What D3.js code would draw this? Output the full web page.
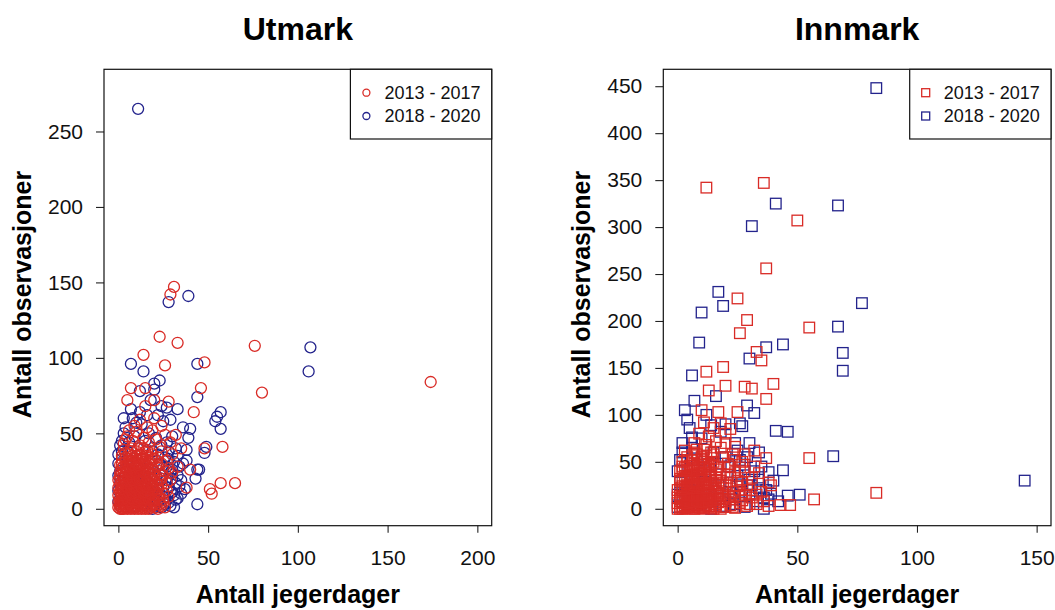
<!DOCTYPE html>
<html>
<head>
<meta charset="utf-8">
<script src="https://cdn.jsdelivr.net/npm/d3@7"></script>
<style>
  html, body { margin: 0; padding: 0; background: #fff; }
  svg { display: block; font-family: "Liberation Sans", Arial, Helvetica, sans-serif; }
</style>
</head>
<body>
<svg id="chart" width="1055" height="610"></svg>
<script>
// Hunter-days vs. observations, two periods, two land types
const periods = ["2013 - 2017", "2018 - 2020"];
const panelTitles = ["Utmark", "Innmark"];
const xTitle = "Antall jegerdager";
const yTitle = "Antall observasjoner";

const utmarkXTicks = [0, 50, 100, 150, 200];
const utmarkYTicks = [0, 50, 100, 150, 200, 250];
const innmarkXTicks = [0, 50, 100, 150];
const innmarkYTicks = [0, 50, 100, 150, 200, 250, 300, 350, 400, 450];

// [jegerdager, observasjoner]
const utmark2013 = [
  [31,147],[29,142],[23,114],[33,110],[76,108],[174,84],[80,77],[14,102],[26,95],[48,97],
  [7,80],[15,80],[46,80],[5,72],[20,72],[28,71],[15,68],[42,64],[12,59],[20,60],
  [32,49],[4,46],[58,41],[48,40],[35,40],[33,28],[57,17],[65,17],[52,10],[38,14],[40,26],[51,13],
  [1,0],[2,1],[3,0],[4,2],[5,1],[6,3],[7,0],[8,2],[9,1],[10,4],[11,0],[12,2],[13,3],[14,1],
  [15,0],[16,2],[18,1],[20,3],[22,0],[24,2],[2,4],[4,5],[7,5],[9,4],[12,5],[1,3],[3,2],[5,4],
  [17,4],[19,5],[26,1],
  [1,7],[2,6],[3,8],[4,9],[5,7],[6,6],[7,8],[8,9],[9,7],[10,6],[11,9],[12,8],[14,7],[15,9],
  [17,8],[19,6],[21,9],[23,7],[25,10],[28,8],[2,10],[6,10],[13,10],
  [1,12],[2,15],[3,11],[4,14],[5,17],[6,13],[7,19],[8,11],[9,16],[10,14],[11,18],[12,12],
  [13,15],[14,19],[15,13],[16,17],[17,11],[18,15],[20,18],[22,13],[24,16],[27,12],[29,19],
  [3,18],[8,20],[12,20],[19,20],[23,19],
  [1,22],[2,27],[4,24],[5,29],[6,21],[7,26],[9,23],[10,28],[11,25],[13,22],[14,27],[15,24],
  [16,29],[17,21],[18,26],[20,23],[21,28],[23,25],[25,22],[28,27],[30,24],[12,30],[8,30],
  [2,33],[4,37],[6,31],[8,35],[10,38],[11,32],[13,36],[15,33],[16,39],[18,31],[19,36],
  [22,34],[24,38],[27,32],[30,36],[7,40],[14,40],
  [3,43],[5,48],[8,45],[10,51],[12,42],[14,47],[17,44],[19,52],[21,46],[23,41],[26,49],
  [29,44],[9,55],[16,54],[6,52],[24,55],
  [0,1],[1,2],[2,0],[3,3],[4,1],[5,0],[6,2],[7,3],[8,1],[9,0],[10,2],[11,3],[12,1],[13,0],
  [14,2],[15,3],[16,1],[17,0],[18,3],[19,2],[21,1],[23,3],
  [0,4],[1,5],[2,6],[3,5],[4,7],[5,6],[6,5],[7,7],[8,6],[9,5],[10,8],[11,6],[12,7],[13,6],
  [14,5],[15,7],[16,8],[17,6],[18,7],[20,5],[22,8],
  [0,9],[1,11],[2,9],[3,10],[4,12],[5,10],[6,11],[7,12],[8,10],[9,12],[10,11],[11,13],
  [12,11],[13,12],[14,10],[15,11],[16,12],[18,10],[19,13],[21,11],
  [0,14],[1,16],[2,13],[3,15],[4,17],[5,14],[6,16],[7,15],[8,17],[9,14],[10,16],[11,15],
  [12,17],[13,14],[14,16],[15,15],[16,14],[17,16],[19,15],[21,17],
  [0,19],[1,20],[2,18],[3,21],[4,19],[5,22],[6,18],[7,21],[8,19],[9,21],[10,20],[11,22],
  [12,19],[13,21],[14,22],[15,20],[16,21],[18,20],[20,21],
  [1,24],[2,23],[3,25],[4,27],[5,25],[6,24],[7,23],[8,26],[9,25],[10,24],[11,27],[12,25],
  [13,26],[14,24],[15,26],[16,25],[17,24],[19,27],
  [1,29],[2,30],[3,28],[4,31],[5,30],[6,28],[7,32],[8,29],[9,31],[10,30],[11,29],[12,33],
  [13,30],[14,31],[15,29],[17,30],[19,32],
  [2,35],[4,34],[6,36],[8,33],[10,35],[12,36],[14,34],[16,35],[18,34],[3,39],[7,38],[11,40],[15,38],
  [20,12],[22,16],[24,20],[25,6],[26,25],[22,29],[20,33],[24,30],[27,17],[25,4]
];
const utmark2018 = [
  [11,265],[28,137],[39,141],[107,107],[106,91],[7,96],[14,91],[44,96],[12,78],[20,83],
  [23,85],[20,79],[44,74],[7,66],[24,68],[27,67],[33,66],[57,64],[55,61],[54,58],[57,53],
  [40,53],[29,59],[38,39],[49,41],[48,37],[44,26],[43,20],[44,3],[10,57],[18,72],[36,54],
  [39,47],[38,32],[35,19],[37,13],[33,7],[29,2],[45,26],
  [0,12],[1,17],[0,5],[1,25],[2,45],[3,50],[4,54],[0,30],[1,2],[2,38],
  [20,2],[22,5],[24,1],[26,8],[28,4],[30,11],[31,1],[25,14],[27,19],[29,24],[32,17],[34,28],
  [31,31],[26,34],[28,38],[24,42],[21,47],[17,50],[13,56],[9,48],[6,44],[11,40],[15,45],
  [19,38],[23,30],[21,22],[18,12],[16,6],[14,3],[12,9],[10,18],[8,25],[6,15],[4,8],[3,20],
  [5,33],[7,1],[9,11],[11,27],[13,33],[15,18],[17,26],[19,0],[21,14],[23,9],[25,27],[27,44],
  [30,48],[32,40],[33,22],[35,10],[22,62],[25,58],[16,62],[12,64],[8,60],[3,60],[5,38],
  [0,22],[0,36],[1,42],[26,3],[28,14],[30,20],[32,6],[27,28],[24,22],[22,36],
  [30,26],[33,35],[36,30],[34,15],[31,9],[28,33]
];
const innmark2013 = [
  [12,342],[36,347],[50,307],[37,256],[25,224],[29,201],[26,187],[55,193],[33,167],[35,158],
  [12,146],[19,151],[20,131],[13,126],[28,130],[31,128],[40,133],[37,117],[10,105],[17,103],
  [25,103],[18,91],[20,80],[22,85],[32,62],[37,54],[55,54],[83,17],[57,10],[47,4],[43,4],
  [39,25],[27,50],[38,28],
  [1,0],[2,3],[3,1],[4,5],[5,2],[6,8],[7,0],[8,4],[9,2],[10,6],[11,1],[12,9],[13,3],[14,7],
  [15,0],[16,5],[17,11],[18,2],[20,8],[22,4],[24,1],[26,6],[1,10],[3,14],[5,12],[7,17],
  [9,13],[11,19],[13,15],[15,21],[17,16],[19,22],[21,13],[23,18],[25,24],[28,15],[2,20],
  [4,25],[6,29],[8,23],[10,31],[12,27],[14,34],[16,30],[18,37],[20,26],[22,33],[24,39],
  [27,28],[30,20],[3,35],[5,40],[7,44],[9,38],[11,47],[13,42],[15,50],[17,45],[19,55],
  [21,48],[23,58],[26,44],[4,52],[6,57],[8,63],[10,55],[12,68],[14,60],[16,72],[18,65],
  [20,70],[9,80],[13,77],[15,86],[11,92],[7,70],[2,45],[1,30],[24,66],[28,40],[31,12],
  [33,5],[29,3],[35,18],
  [0,0],[1,2],[2,0],[3,4],[4,1],[5,3],[6,0],[7,2],[8,5],[9,1],[10,3],[11,0],[12,4],[13,2],
  [14,1],[16,3],[18,0],[20,2],
  [0,6],[1,8],[2,7],[3,9],[4,6],[5,8],[6,10],[7,7],[8,9],[9,8],[10,10],[11,7],[12,11],
  [13,8],[14,10],[15,9],[17,7],[19,10],
  [0,12],[1,14],[2,13],[3,16],[4,14],[5,17],[6,15],[7,13],[8,16],[9,18],[10,15],[11,14],
  [12,17],[13,19],[14,15],[16,18],[18,14],[20,17],
  [0,20],[1,22],[2,24],[3,21],[4,23],[5,26],[6,22],[7,25],[8,27],[9,24],[10,22],[11,26],
  [12,23],[13,28],[14,25],[15,27],[17,23],[19,28],
  [1,32],[2,29],[3,31],[4,34],[5,33],[6,36],[7,30],[8,35],[9,32],[10,37],[11,34],[12,31],
  [13,36],[14,38],[16,33],[18,30],
  [1,40],[2,42],[3,44],[4,41],[5,46],[6,43],[7,48],[8,42],[9,45],[10,41],[11,50],[12,44],
  [13,48],[14,46],[16,42],
  [2,50],[4,55],[6,52],[8,58],[10,53],[12,56],[14,54],[3,62],[7,60],[11,63],[15,58],
  [22,10],[24,14],[26,20],[27,9],[29,25],[31,33],[33,15],[25,30],[22,45],[24,52],[28,58],
  [32,45],[34,38],[30,5],[36,8],[38,3],[21,36],[23,2]
];
const innmark2018 = [
  [83,448],[41,325],[67,323],[31,301],[17,231],[19,216],[10,209],[77,219],[67,194],[9,177],
  [37,172],[44,175],[69,166],[69,147],[30,160],[6,142],[7,115],[29,110],[32,102],[41,83],
  [46,82],[5,86],[6,76],[14,89],[26,91],[65,56],[44,41],[145,30],[51,15],[46,14],[38,10],
  [38,39],[34,31],[30,31],
  [0,2],[0,15],[1,28],[0,40],[1,52],[2,60],[3,8],[5,20],[2,70],[4,95],[7,30],[9,5],[11,40],
  [13,12],[15,60],[17,25],[19,3],[21,45],[23,10],[25,35],[27,18],[29,55],[31,25],[33,8],
  [35,45],[37,20],[28,2],[24,70],[20,90],[12,100],[16,120],[3,105],[8,52],[10,75],[22,28],
  [26,52],[30,70],[18,82],[6,65],[14,0],[27,88],[34,60],[40,30],[36,0],[42,8],
  [24,5],[26,26],[30,15],[32,40],[34,22],[36,12],[39,16],[28,47],[25,62],[22,18],[20,55],[18,48]
];

const colors = ["#d92b26", "#23238c"];

const panels = [
  { title: panelTitles[0], x0: 104, xDom: [0, 200], yDom: [0, 280],
    xTicks: utmarkXTicks, yTicks: utmarkYTicks, shape: "circle",
    series: [utmark2013, utmark2018] },
  { title: panelTitles[1], x0: 663.3, xDom: [0, 150], yDom: [0, 450],
    xTicks: innmarkXTicks, yTicks: innmarkYTicks, shape: "square",
    series: [innmark2013, innmark2018] }
];

const boxW = 387.7, boxTop = 69.3, boxBottom = 525.7;
const svg = d3.select("#chart");

// extend a domain by 4% on each side, like R's default axis style
const pad = d => { const r = d[1] - d[0]; return [d[0] - 0.04 * r, d[1] + 0.04 * r]; };

function drawSymbol(g, shape, cx, cy, size, color) {
  if (shape === "circle") {
    g.append("circle").attr("cx", cx).attr("cy", cy).attr("r", size)
      .attr("fill", "none").attr("stroke", color).attr("stroke-width", 1.3);
  } else {
    g.append("rect").attr("x", cx - size).attr("y", cy - size)
      .attr("width", 2 * size).attr("height", 2 * size)
      .attr("fill", "none").attr("stroke", color).attr("stroke-width", 1.3);
  }
}

panels.forEach(p => {
  const x1 = p.x0 + boxW;
  const x = d3.scaleLinear().domain(pad(p.xDom)).range([p.x0, x1]);
  const y = d3.scaleLinear().domain(pad(p.yDom)).range([boxBottom, boxTop]);
  const g = svg.append("g");

  // points: later period first, earlier period on top
  [1, 0].forEach(si => {
    const sg = g.append("g");
    p.series[si].forEach(d => drawSymbol(sg, p.shape, x(d[0]), y(d[1]),
      p.shape === "circle" ? 5.5 : 5.3, colors[si]));
  });

  // axes
  const xAxis = d3.axisBottom(x).tickValues(p.xTicks).tickSize(7).tickPadding(17)
    .tickFormat(d3.format("d"));
  const gx = g.append("g").attr("transform", `translate(0,${boxBottom})`).call(xAxis);
  const yAxis = d3.axisLeft(y).tickValues(p.yTicks).tickSize(8).tickPadding(13)
    .tickFormat(d3.format("d"));
  const gy = g.append("g").attr("transform", `translate(${p.x0},0)`).call(yAxis);
  [gx, gy].forEach(a => {
    a.select(".domain").remove();
    a.selectAll(".tick line").attr("stroke", "#222").attr("stroke-width", 1.1);
    a.selectAll(".tick text").attr("font-size", 21).attr("fill", "#111")
      .attr("font-family", "'Liberation Sans', Arial, sans-serif");
  });

  // plot box
  g.append("rect").attr("x", p.x0).attr("y", boxTop)
    .attr("width", boxW).attr("height", boxBottom - boxTop)
    .attr("fill", "none").attr("stroke", "#111").attr("stroke-width", 1.2);

  // legend, top right inside the box
  const lw = 141.3, lh = 69.7, lx = x1 - lw;
  const lg = g.append("g");
  lg.append("rect").attr("x", lx).attr("y", boxTop).attr("width", lw).attr("height", lh)
    .attr("fill", "#fff").attr("stroke", "#111").attr("stroke-width", 1.2);
  periods.forEach((lab, i) => {
    const cy = boxTop + 23.4 + i * 23.3;
    drawSymbol(lg, p.shape, lx + 16, cy, p.shape === "circle" ? 3.5 : 4, colors[i]);
    lg.append("text").attr("x", lx + 34).attr("y", cy).attr("dy", "0.36em")
      .attr("font-size", 18).attr("fill", "#111").text(lab);
  });

  // titles
  const cx = (p.x0 + x1) / 2;
  g.append("text").attr("x", cx).attr("y", 40).attr("text-anchor", "middle")
    .attr("font-size", 32).attr("font-weight", "bold").attr("fill", "#000").text(p.title);
  g.append("text").attr("x", cx).attr("y", 603).attr("text-anchor", "middle")
    .attr("font-size", 25).attr("font-weight", "bold").attr("fill", "#000").text(xTitle);
  g.append("text")
    .attr("transform", `translate(${p.x0 - 73},${(boxTop + boxBottom) / 2 - 3}) rotate(-90)`)
    .attr("text-anchor", "middle").attr("font-size", 25).attr("font-weight", "bold")
    .attr("fill", "#000").text(yTitle);
});
</script>
</body>
</html>
